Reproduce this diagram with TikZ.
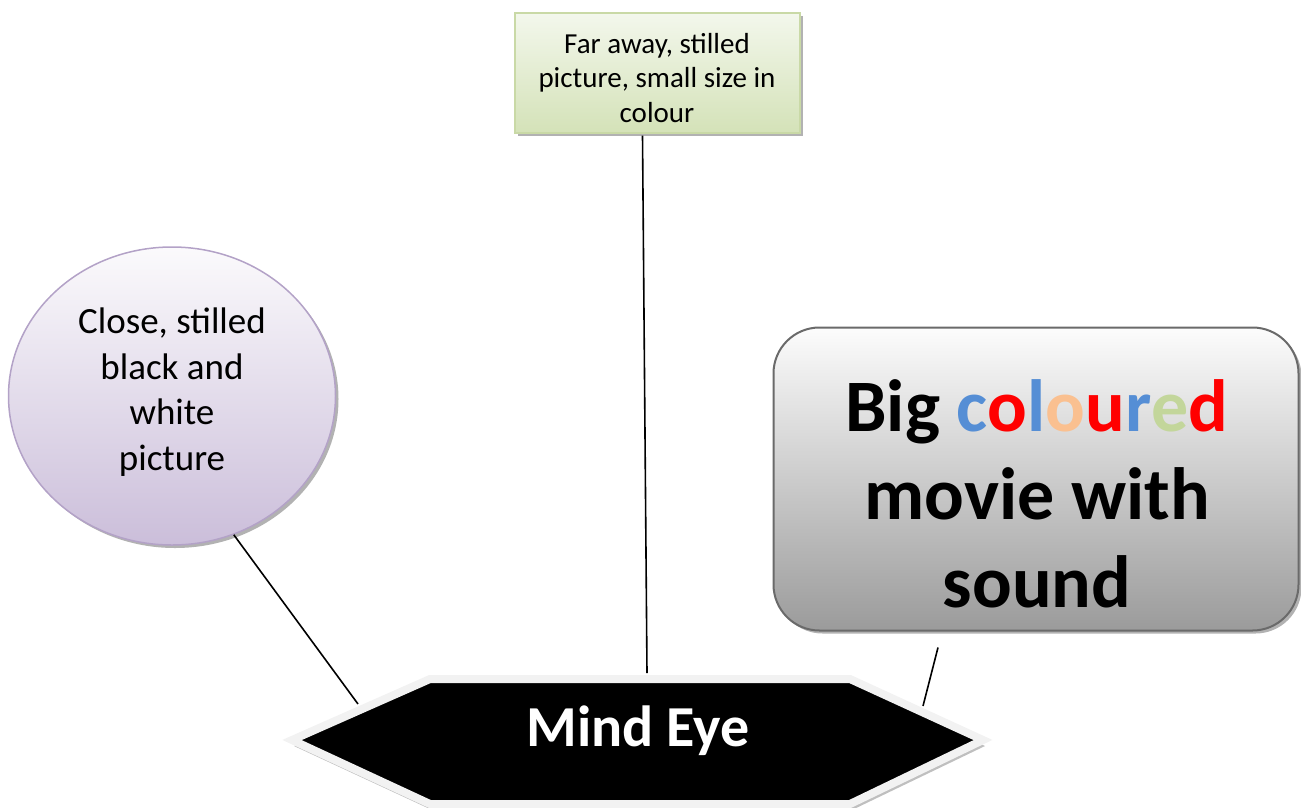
\documentclass[tikz,border=0pt]{standalone}
\usepackage{fontspec}
\setmainfont{Carlito}
\usetikzlibrary{shapes.geometric,shadows,calc}
\definecolor{cblue}{HTML}{558ED5}
\definecolor{cred}{HTML}{FF0000}
\definecolor{cpeach}{HTML}{FAC090}
\definecolor{cgreen}{HTML}{C3D69B}
\definecolor{greentop}{HTML}{F3F7EC}
\definecolor{greenbot}{HTML}{D4E2B8}
\definecolor{greenline}{HTML}{C9D9A6}
\definecolor{lavtop}{HTML}{FBFAFC}
\definecolor{lavbot}{HTML}{CBBEDA}
\definecolor{lavline}{HTML}{B3A2C7}
\definecolor{graytop}{HTML}{FCFCFC}
\definecolor{graybot}{HTML}{9B9B9B}
\definecolor{grayline}{HTML}{6A6A6A}
\definecolor{hexborder}{HTML}{F2F2F2}
\definecolor{hexshadow}{HTML}{BFBFBF}
\tikzset{
  shadowed/.style={drop shadow={shadow xshift=3pt, shadow yshift=-3pt, fill=black!55, opacity=0.55}},
  farbox/.style={rectangle, draw=greenline, line width=1.2pt, top color=greentop, bottom color=greenbot,
    minimum width=285pt, minimum height=120pt, inner sep=0pt, shadowed},
  circbox/.style={ellipse, draw=lavline, line width=1.5pt, top color=lavtop, bottom color=lavbot,
    minimum width=327pt, minimum height=298pt, inner sep=0pt, shadowed},
  bigbox/.style={rectangle, rounded corners=46pt, draw=grayline, line width=2pt, top color=graytop, bottom color=graybot,
    minimum width=525pt, minimum height=303pt, inner sep=0pt, shadowed},
  smalltxt/.style={align=center, font=\fontsize{29}{34.5}\selectfont},
  midtxt/.style={align=center, font=\fontsize{37}{45.5}\selectfont},
  bigtxt/.style={align=center, font=\fontsize{74}{88}\selectfont\bfseries},
  hextxt/.style={align=center, text=white, font=\fontsize{58}{70}\selectfont\bfseries},
  link/.style={draw=black, line width=1.6pt}
}
\begin{document}
\begin{tikzpicture}[x=1pt,y=-1pt]
\useasboundingbox (0,0) rectangle (1301,807);
% boxes
\node[farbox] (far) at (657.5,73) {};
\node[smalltxt] (fart) at (657,78) {Far away, stilled\\picture, small size in\\colour};
\node[circbox] (circ) at (172,396) {};
\node[midtxt] (circt) at (172,392) {Close, stilled\\black and\\white\\picture};
\node[bigbox] (big) at (1036,479) {};
\node[bigtxt] (bigt) at (1037,494) {Big \textcolor{cblue}{c}\textcolor{cred}{o}\textcolor{cblue}{l}\textcolor{cpeach}{o}\textcolor{cred}{u}\textcolor{cblue}{r}\textcolor{cgreen}{e}\textcolor{cred}{d}\\movie with\\sound};
% hexagon
\coordinate (hL) at (292,740);
\coordinate (hTL) at (430,679);
\coordinate (hTR) at (850,679);
\coordinate (hR) at (983,740);
\coordinate (hBR) at (850,804);
\coordinate (hBL) at (430,804);
\fill[hexshadow] ([shift={(2,6)}]hL) -- ([shift={(2,6)}]hTL) -- ([shift={(2,6)}]hTR) -- ([shift={(2,6)}]hR) -- ([shift={(2,6)}]hBR) -- ([shift={(2,6)}]hBL) -- cycle;
\draw[hexborder, line width=8pt, fill=black, line join=miter] (hL) -- (hTL) -- (hTR) -- (hR) -- (hBR) -- (hBL) -- cycle;
\node[hextxt] (hex) at (638,731) {Mind Eye};
% connector ends on the hexagon
\coordinate (e1) at (358,704);
\coordinate (e2) at (647,673);
\coordinate (e3) at (923,706);
% connectors
\draw[link] (circ.-66.6) -- (e1);
\draw[link] ([xshift=-15pt,yshift=-2pt]far.south) -- (e2);
\draw[link] ([xshift=-98pt,yshift=-16pt]big.south) -- (e3);
\end{tikzpicture}
\end{document}
